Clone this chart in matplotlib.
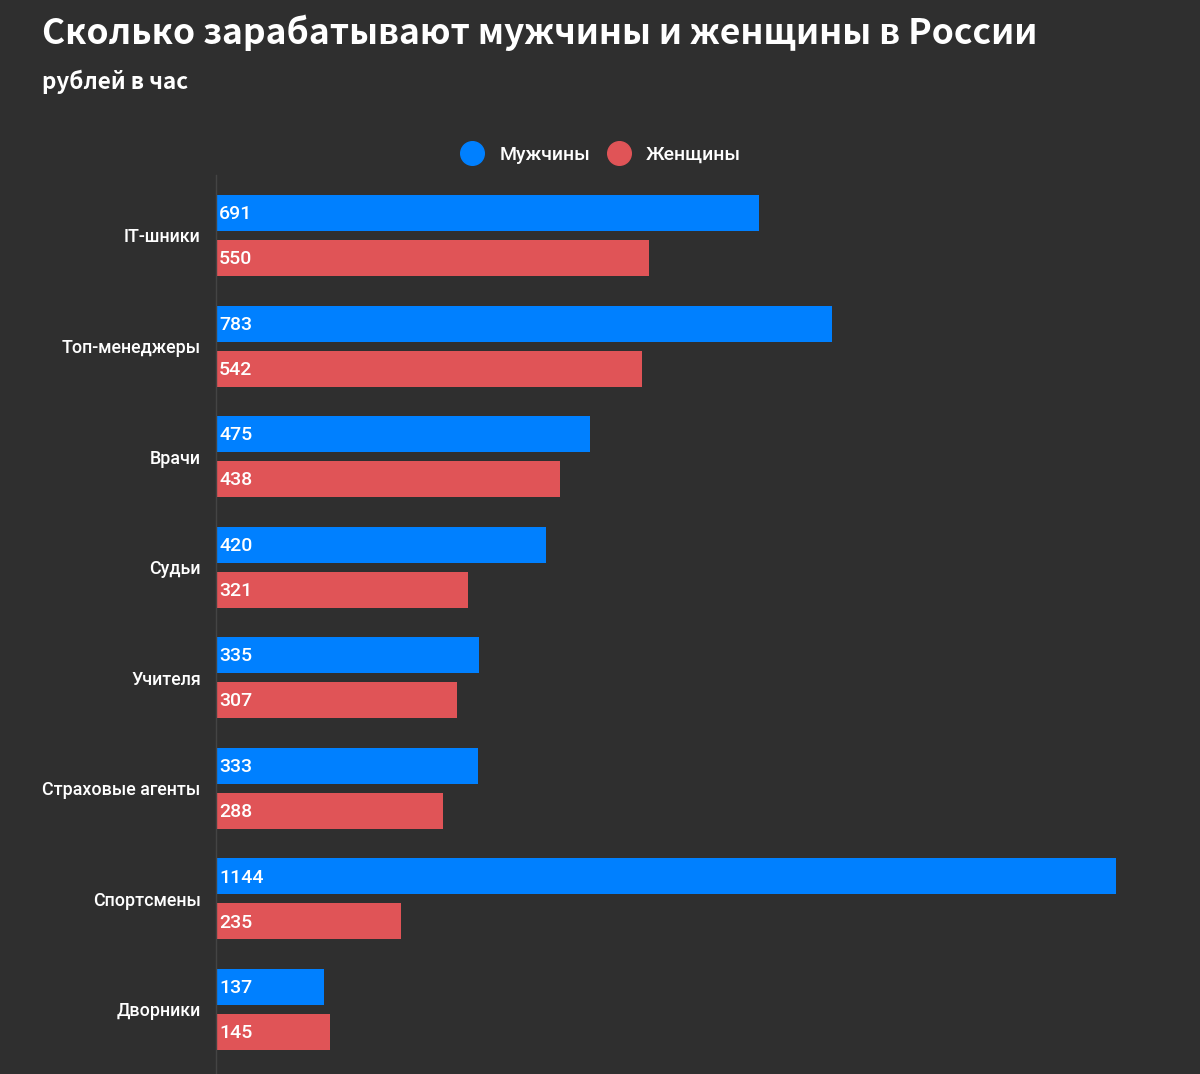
import matplotlib
matplotlib.use("Agg")
import matplotlib.pyplot as plt
from matplotlib.lines import Line2D

categories = ["IT-шники", "Топ-менеджеры", "Врачи", "Судьи", "Учителя",
              "Страховые агенты", "Спортсмены", "Дворники"]
men = [691, 783, 475, 420, 335, 333, 1144, 137]
women = [550, 542, 438, 321, 307, 288, 235, 145]
series_names = ["Мужчины", "Женщины"]

BG = "#2f2f2f"
BLUE = "#0080ff"
RED = "#e05457"

W, H = 1200, 1074
fig = plt.figure(figsize=(W / 100, H / 100), dpi=100, facecolor=BG)

ax_left, ax_top, ax_right, ax_bottom = 216, 175, 1200, 1074
ax = fig.add_axes([ax_left / W, 1 - ax_bottom / H, (ax_right - ax_left) / W, (ax_bottom - ax_top) / H])
ax.set_facecolor(BG)

spacing = 110.57
ax.set_xlim(0, (ax_right - ax_left) / 0.7865)
ax.set_ylim((ax_bottom - 235.5) / spacing, (ax_top - 235.5) / spacing)

bh = 36 / spacing
off = 22.5 / spacing
ys = list(range(len(categories)))
ax.barh([y - off for y in ys], men, height=bh, color=BLUE, zorder=2)
ax.barh([y + off for y in ys], women, height=bh, color=RED, zorder=2)

lab_font = dict(family=["Roboto", "DejaVu Sans"], fontsize=14, fontweight="medium", color="white")
for y, m, w in zip(ys, men, women):
    ax.text(4, y - off + 0.01, str(m), va="center", ha="left", zorder=3, **lab_font)
    ax.text(4, y + off + 0.01, str(w), va="center", ha="left", zorder=3, **lab_font)

ax.set_yticks(ys)
ax.set_yticklabels(categories, family=["Roboto", "DejaVu Sans"], fontsize=12.9,
                   fontweight="medium", color="white")
ax.tick_params(axis="y", length=0, pad=11)
ax.set_xticks([])
for s in ["top", "right", "bottom"]:
    ax.spines[s].set_visible(False)
ax.spines["left"].set_color("#444444")
ax.spines["left"].set_linewidth(1)

fig.text(42 / W, 1 - 33 / H, "Сколько зарабатывают мужчины и женщины в России",
         family=["Noto Sans CJK SC", "DejaVu Sans"], fontweight="bold", fontsize=25.5,
         color="white", va="center", ha="left")
fig.text(42 / W, 1 - 82 / H, "рублей в час",
         family=["Noto Sans CJK SC", "DejaVu Sans"], fontweight="bold", fontsize=16.2,
         color="white", va="center", ha="left")

handles = [Line2D([], [], marker="o", linestyle="none", markersize=17, markerfacecolor=BLUE, markeredgecolor=BLUE),
           Line2D([], [], marker="o", linestyle="none", markersize=17, markerfacecolor=RED, markeredgecolor=RED)]
leg = fig.legend(handles, series_names, loc="center", bbox_to_anchor=(597 / W, 1 - 155 / H),
                 ncol=2, frameon=False, handletextpad=0.4, columnspacing=0.45,
                 prop=dict(family=["Roboto", "DejaVu Sans"], size=14, weight="medium"))
for t in leg.get_texts():
    t.set_color("white")

fig.savefig("out.png", dpi=100, facecolor=BG)
